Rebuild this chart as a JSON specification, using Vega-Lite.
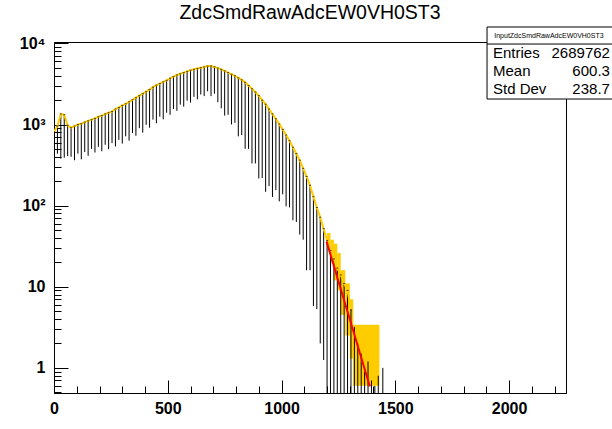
{
  "$schema": "https://vega.github.io/schema/vega-lite/v6.json",
  "width": 512,
  "height": 351,
  "autosize": "none",
  "padding": {"left": 54, "top": 42, "right": 46, "bottom": 36},
  "background": "white",
  "title": {"text": "ZdcSmdRawAdcEW0VH0ST3", "font": "Liberation Sans", "fontSize": 19.5, "fontWeight": "normal", "color": "black", "anchor": "middle", "offset": 3},
  "datasets": {
    "h": [
      {"x": 0, "y": 813, "lo": 407}, {"x": 15, "y": 955, "lo": 437}, {"x": 30, "y": 1349, "lo": 380}, {"x": 45, "y": 1318, "lo": 390},
      {"x": 60, "y": 977, "lo": 408}, {"x": 75, "y": 912, "lo": 400}, {"x": 90, "y": 955, "lo": 363}, {"x": 105, "y": 1000, "lo": 437},
      {"x": 120, "y": 1023, "lo": 372}, {"x": 135, "y": 1072, "lo": 458}, {"x": 150, "y": 1109, "lo": 411}, {"x": 165, "y": 1148, "lo": 501},
      {"x": 180, "y": 1189, "lo": 452}, {"x": 195, "y": 1245, "lo": 531}, {"x": 210, "y": 1288, "lo": 468}, {"x": 225, "y": 1349, "lo": 563},
      {"x": 240, "y": 1396, "lo": 496}, {"x": 255, "y": 1445, "lo": 589}, {"x": 270, "y": 1549, "lo": 537}, {"x": 285, "y": 1622, "lo": 646},
      {"x": 300, "y": 1718, "lo": 582}, {"x": 315, "y": 1799, "lo": 716}, {"x": 330, "y": 1905, "lo": 632}, {"x": 345, "y": 2018, "lo": 787},
      {"x": 360, "y": 2138, "lo": 726}, {"x": 375, "y": 2265, "lo": 902}, {"x": 390, "y": 2399, "lo": 795}, {"x": 405, "y": 2541, "lo": 991},
      {"x": 420, "y": 2692, "lo": 914}, {"x": 435, "y": 2884, "lo": 1148}, {"x": 450, "y": 3055, "lo": 1037}, {"x": 465, "y": 3199, "lo": 1248},
      {"x": 480, "y": 3350, "lo": 1159}, {"x": 495, "y": 3508, "lo": 1397}, {"x": 510, "y": 3715, "lo": 1317}, {"x": 525, "y": 3890, "lo": 1549},
      {"x": 540, "y": 4074, "lo": 1475}, {"x": 555, "y": 4217, "lo": 1757}, {"x": 570, "y": 4365, "lo": 1660}, {"x": 585, "y": 4519, "lo": 1968},
      {"x": 600, "y": 4677, "lo": 1862}, {"x": 615, "y": 4786, "lo": 2188}, {"x": 630, "y": 4898, "lo": 2042}, {"x": 645, "y": 5012, "lo": 2340},
      {"x": 660, "y": 5129, "lo": 2239}, {"x": 675, "y": 5248, "lo": 2570}, {"x": 690, "y": 5248, "lo": 2239}, {"x": 705, "y": 5129, "lo": 2399},
      {"x": 720, "y": 4955, "lo": 1883}, {"x": 735, "y": 4786, "lo": 1585}, {"x": 750, "y": 4571, "lo": 1288}, {"x": 765, "y": 4365, "lo": 1318},
      {"x": 780, "y": 4169, "lo": 1000}, {"x": 795, "y": 3981, "lo": 1047}, {"x": 810, "y": 3758, "lo": 714}, {"x": 825, "y": 3548, "lo": 741},
      {"x": 840, "y": 3311, "lo": 501}, {"x": 855, "y": 3020, "lo": 501}, {"x": 870, "y": 2754, "lo": 331}, {"x": 885, "y": 2512, "lo": 331},
      {"x": 900, "y": 2265, "lo": 216}, {"x": 915, "y": 1995, "lo": 219}, {"x": 930, "y": 1778, "lo": 148}, {"x": 945, "y": 1549, "lo": 174},
      {"x": 960, "y": 1349, "lo": 128}, {"x": 975, "y": 1175, "lo": 155}, {"x": 990, "y": 1012, "lo": 113}, {"x": 1005, "y": 871, "lo": 138},
      {"x": 1020, "y": 741, "lo": 98}, {"x": 1035, "y": 631, "lo": 95}, {"x": 1050, "y": 525, "lo": 66}, {"x": 1065, "y": 437, "lo": 63},
      {"x": 1080, "y": 363, "lo": 44}, {"x": 1095, "y": 288, "lo": 38}, {"x": 1110, "y": 229, "lo": 16}, {"x": 1125, "y": 178, "lo": 16},
      {"x": 1140, "y": 129, "lo": 5.8}, {"x": 1155, "y": 95, "lo": 5.3}, {"x": 1170, "y": 72, "lo": 2.0}, {"x": 1185, "y": 52, "lo": 1.25},
      {"x": 1200, "y": 37, "lo": 0.3}, {"x": 1215, "y": 28, "lo": 0.3}, {"x": 1230, "y": 22, "lo": 0.3}, {"x": 1245, "y": 17, "lo": 0.3},
      {"x": 1260, "y": 14, "lo": 0.3}, {"x": 1275, "y": 11, "lo": 0.3}, {"x": 1290, "y": 9, "lo": 0.3}, {"x": 1305, "y": 5.2, "lo": 0.3},
      {"x": 1320, "y": 3.2, "lo": 0.3}, {"x": 1335, "y": 2.0, "lo": 0.3}, {"x": 1350, "y": 1.5, "lo": 0.3}, {"x": 1365, "y": 0.9, "lo": 0.3},
      {"x": 1380, "y": 1.2, "lo": 0.3}, {"x": 1395, "y": 0.7, "lo": 0.3}, {"x": 1410, "y": 0.6, "lo": 0.3}, {"x": 1425, "y": 0.8, "lo": 0.3},
      {"x": 1445, "y": 1.0, "lo": 0.3}
    ],
    "band": [
      {"x": 1200, "x2": 1215, "lo": 30, "hi": 46}, {"x": 1215, "x2": 1230, "lo": 20, "hi": 38},
      {"x": 1230, "x2": 1245, "lo": 12, "hi": 34}, {"x": 1245, "x2": 1260, "lo": 9, "hi": 26},
      {"x": 1260, "x2": 1280, "lo": 4.5, "hi": 16}, {"x": 1280, "x2": 1300, "lo": 2.5, "hi": 11},
      {"x": 1300, "x2": 1315, "lo": 1.3, "hi": 7}, {"x": 1315, "x2": 1430, "lo": 0.6, "hi": 3.4}
    ],
    "fit": [{"x": 1198, "y": 36}, {"x": 1388, "y": 0.59}]
  },
  "resolve": {"axis": {"x": "independent", "y": "independent"}},
  "layer": [
    {
      "data": {"name": "band"},
      "mark": {"type": "rect", "color": "#ffcc00", "clip": true},
      "encoding": {
        "x": {"field": "x", "type": "quantitative", "scale": {"domain": [0, 2250], "nice": false, "zero": false}, "axis": null},
        "x2": {"field": "x2"},
        "y": {"field": "lo", "type": "quantitative", "scale": {"type": "log", "domain": [0.49, 10400], "nice": false}, "axis": null},
        "y2": {"field": "hi"}
      }
    },
    {
      "data": {"name": "h"},
      "mark": {"type": "rule", "color": "black", "strokeWidth": 1, "clip": true},
      "encoding": {
        "x": {"field": "x", "type": "quantitative", "axis": {"orient": "bottom", "values": [0, 500, 1000, 1500, 2000], "format": "d", "tickSize": -13, "labelPadding": 20, "domainColor": "black", "tickColor": "black", "labelFont": "Liberation Sans", "labelFontWeight": "bold", "labelFontSize": 16, "labelColor": "black", "grid": false, "title": null, "labelFlush": false, "labelOverlap": false}},
        "y": {"field": "lo", "type": "quantitative", "axis": {"orient": "left", "values": [1, 10, 100, 1000, 10000], "tickSize": -14, "labelPadding": 23, "labelExpr": "datum.value >= 10000 ? '10⁴' : datum.value >= 1000 ? '10³' : datum.value >= 100 ? '10²' : datum.value >= 10 ? '10' : '1'", "domainColor": "black", "tickColor": "black", "labelFont": "Liberation Sans", "labelFontWeight": "bold", "labelFontSize": 16, "labelColor": "black", "grid": false, "title": null, "labelOverlap": false, "labelFlush": false}},
        "y2": {"field": "y"}
      }
    },
    {
      "data": {"name": "h"},
      "transform": [{"filter": "datum.x <= 1305"}],
      "mark": {"type": "line", "color": "#ffcc00", "strokeWidth": 2, "clip": true},
      "encoding": {
        "x": {"field": "x", "type": "quantitative", "axis": {"orient": "bottom", "values": [100, 200, 300, 400, 600, 700, 800, 900, 1100, 1200, 1300, 1400, 1600, 1700, 1800, 1900, 2100, 2200], "tickSize": -7, "labels": false, "domain": false, "tickColor": "black", "grid": false, "title": null}},
        "y": {"field": "y", "type": "quantitative", "axis": {"orient": "left", "values": [0.5, 0.6, 0.7, 0.8, 0.9, 2, 3, 4, 5, 6, 7, 8, 9, 20, 30, 40, 50, 60, 70, 80, 90, 200, 300, 400, 500, 600, 700, 800, 900, 2000, 3000, 4000, 5000, 6000, 7000, 8000, 9000], "tickSize": -7, "labels": false, "domain": false, "tickColor": "black", "grid": false, "title": null}}
      }
    },
    {
      "data": {"name": "h"},
      "transform": [{"filter": "datum.x <= 1305"}],
      "mark": {"type": "tick", "orient": "horizontal", "color": "black", "size": 2, "thickness": 1, "clip": true},
      "encoding": {
        "x": {"field": "x", "type": "quantitative", "axis": null},
        "y": {"field": "y", "type": "quantitative", "axis": null}
      }
    },
    {
      "data": {"name": "fit"},
      "mark": {"type": "line", "color": "#ff0000", "strokeWidth": 2},
      "encoding": {
        "x": {"field": "x", "type": "quantitative", "axis": null},
        "y": {"field": "y", "type": "quantitative", "axis": null}
      }
    },
    {
      "data": {"values": [{"t": "InputZdcSmdRawAdcEW0VH0ST3"}]},
      "layer": [
        {
          "mark": {"type": "rect", "fill": "white", "stroke": "black", "strokeWidth": 1},
          "encoding": {
            "x": {"datum": 1903, "type": "quantitative", "axis": null},
            "x2": {"datum": 2470},
            "y": {"datum": 15920, "type": "quantitative", "axis": null},
            "y2": {"datum": 2061}
          }
        },
        {
          "mark": {"type": "rule", "color": "black", "strokeWidth": 1},
          "encoding": {
            "x": {"datum": 1903, "type": "quantitative", "axis": null},
            "x2": {"datum": 2470},
            "y": {"datum": 9820, "type": "quantitative", "axis": null}
          }
        },
        {
          "mark": {"type": "text", "font": "Liberation Sans", "fontSize": 7, "align": "center", "baseline": "middle", "color": "black"},
          "encoding": {
            "text": {"field": "t"},
            "x": {"datum": 2175, "type": "quantitative", "axis": null},
            "y": {"datum": 12330, "type": "quantitative", "axis": null}
          }
        }
      ]
    },
    {
      "data": {"values": [{"k": "Entries", "v": "2689762"}]},
      "layer": [
        {"mark": {"type": "text", "font": "Liberation Sans", "fontSize": 15, "align": "left", "baseline": "middle", "color": "black"},
         "encoding": {"text": {"field": "k"}, "x": {"datum": 1929, "type": "quantitative", "axis": null}, "y": {"datum": 7600, "type": "quantitative", "axis": null}}},
        {"mark": {"type": "text", "font": "Liberation Sans", "fontSize": 15, "align": "right", "baseline": "middle", "color": "black"},
         "encoding": {"text": {"field": "v"}, "x": {"datum": 2443, "type": "quantitative", "axis": null}, "y": {"datum": 7600, "type": "quantitative", "axis": null}}}
      ]
    },
    {
      "data": {"values": [{"k": "Mean", "v": "600.3"}]},
      "layer": [
        {"mark": {"type": "text", "font": "Liberation Sans", "fontSize": 15, "align": "left", "baseline": "middle", "color": "black"},
         "encoding": {"text": {"field": "k"}, "x": {"datum": 1929, "type": "quantitative", "axis": null}, "y": {"datum": 4565, "type": "quantitative", "axis": null}}},
        {"mark": {"type": "text", "font": "Liberation Sans", "fontSize": 15, "align": "right", "baseline": "middle", "color": "black"},
         "encoding": {"text": {"field": "v"}, "x": {"datum": 2443, "type": "quantitative", "axis": null}, "y": {"datum": 4565, "type": "quantitative", "axis": null}}}
      ]
    },
    {
      "data": {"values": [{"k": "Std Dev", "v": "238.7"}]},
      "layer": [
        {"mark": {"type": "text", "font": "Liberation Sans", "fontSize": 15, "align": "left", "baseline": "middle", "color": "black"},
         "encoding": {"text": {"field": "k"}, "x": {"datum": 1929, "type": "quantitative", "axis": null}, "y": {"datum": 2742, "type": "quantitative", "axis": null}}},
        {"mark": {"type": "text", "font": "Liberation Sans", "fontSize": 15, "align": "right", "baseline": "middle", "color": "black"},
         "encoding": {"text": {"field": "v"}, "x": {"datum": 2443, "type": "quantitative", "axis": null}, "y": {"datum": 2742, "type": "quantitative", "axis": null}}}
      ]
    }
  ],
  "config": {
    "view": {"stroke": "black", "strokeWidth": 1}
  }
}
